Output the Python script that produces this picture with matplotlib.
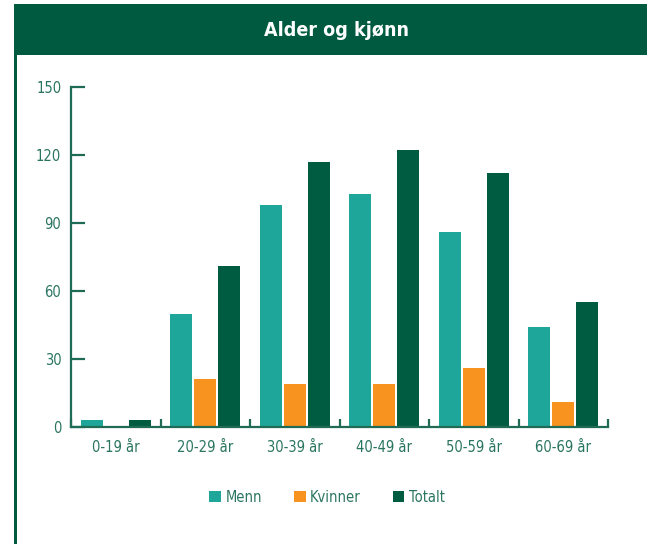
import matplotlib
matplotlib.use("Agg")
import matplotlib.pyplot as plt
from matplotlib.patches import Rectangle
import numpy as np

categories = ["0-19 år", "20-29 år", "30-39 år", "40-49 år", "50-59 år", "60-69 år"]
menn = [3, 50, 98, 103, 86, 44]
kvinner = [0, 21, 19, 19, 26, 11]
totalt = [3, 71, 117, 122, 112, 55]
series_names = ["Menn", "Kvinner", "Totalt"]
yticks = [0, 30, 60, 90, 120, 150]
title = "Alder og kjønn"

c_menn = "#1ea69a"
c_kv = "#f7931e"
c_tot = "#005c40"
dark = "#005a40"
txt = "#2a7560"

plt.rcParams['font.family'] = ['DejaVu Sans']
plt.rcParams['font.stretch'] = 'condensed'

W, H = 647, 544
fig = plt.figure(figsize=(W/100, H/100), dpi=100)

# header banner and left rule
fig.patches.append(Rectangle((14/W, 1-55/H), 1-14/W, 51/H, transform=fig.transFigure,
                             facecolor=dark, edgecolor='none'))
fig.patches.append(Rectangle((14/W, 0), 2.5/W, 1-55/H, transform=fig.transFigure,
                             facecolor=dark, edgecolor='none'))
fig.text(337/W, 1-30/H, title, color='white', fontsize=14, fontweight='bold',
         fontstretch='condensed', ha='center', va='center')

ax = fig.add_axes([71/W, (H-427)/H, (608-71)/W, (427-87)/H])
x = np.arange(len(categories))
w = 0.245
off = 0.268
ax.bar(x - off, menn, w, color=c_menn, label=series_names[0])
ax.bar(x, kvinner, w, color=c_kv, label=series_names[1])
ax.bar(x + off, totalt, w, color=c_tot, label=series_names[2])

ax.set_xlim(-0.5, len(categories) - 0.5)
ax.set_ylim(0, 150)
for s in ['top', 'right']:
    ax.spines[s].set_visible(False)
for s in ['left', 'bottom']:
    ax.spines[s].set_color("#1f6b55")
    ax.spines[s].set_linewidth(1.6)

ax.set_yticks(yticks)
ax.set_yticklabels([str(v) for v in yticks])
ax.tick_params(axis='y', direction='in', length=10, width=1.6, color="#1f6b55",
               labelcolor=txt, labelsize=10.5, pad=7)
ax.set_xticks(x)
ax.set_xticklabels(categories)
ax.tick_params(axis='x', which='major', length=0, labelcolor=txt, labelsize=10.5, pad=9)
ax.set_xticks(np.arange(len(categories) + 1) - 0.5, minor=True)
ax.tick_params(axis='x', which='minor', direction='in', length=6, width=1.6, color="#1f6b55")

leg = fig.legend(loc='center', bbox_to_anchor=(327/W, 1-497/H), ncol=3, frameon=False,
                 fontsize=10.5, handlelength=0.8, handleheight=0.8, columnspacing=2.2,
                 handletextpad=0.3)
for t in leg.get_texts():
    t.set_color(txt)

fig.savefig("out.png", dpi=100)
